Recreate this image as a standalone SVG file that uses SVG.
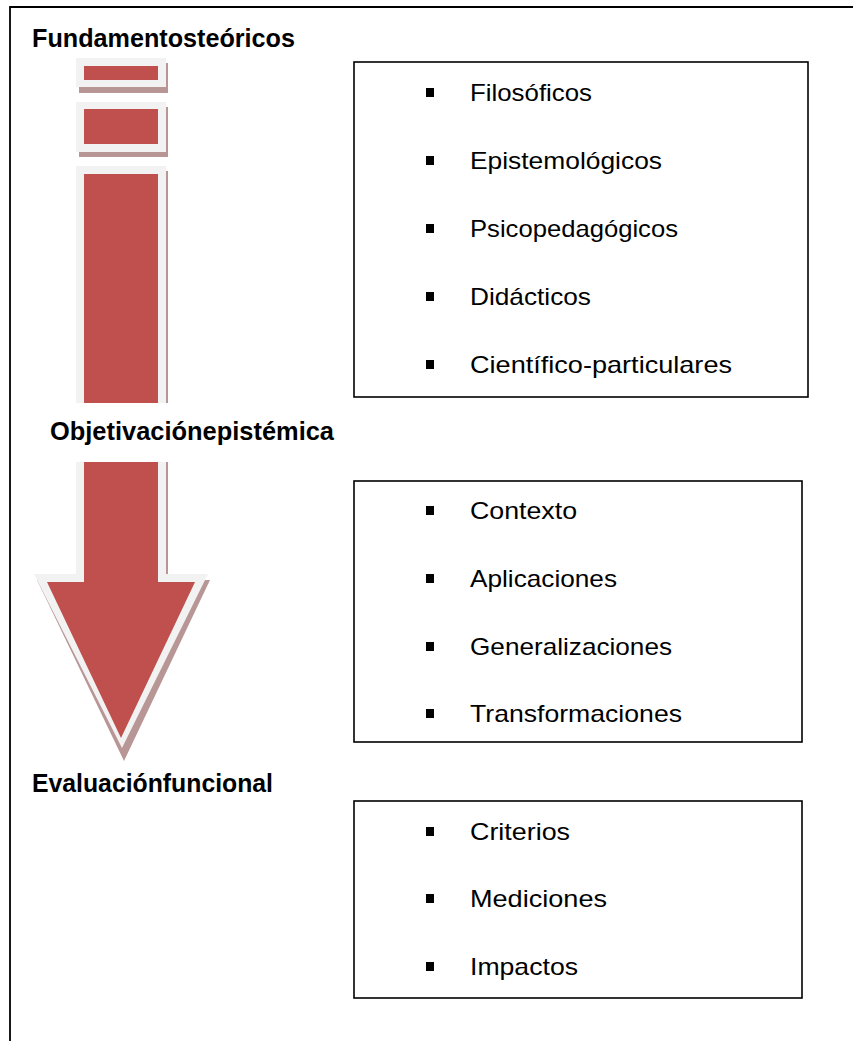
<svg xmlns="http://www.w3.org/2000/svg" width="853" height="1041" viewBox="0 0 853 1041">
<style>
.lbl{font-family:"Liberation Sans",Arial,sans-serif;font-weight:bold;font-size:25px;fill:#000}
.item{font-family:"Liberation Sans",Arial,sans-serif;font-size:24px;fill:#000}
.box{fill:#fff;stroke:#000;stroke-width:1.6}
.red{fill:#c0504d}
.light{fill:#f2f2f2}
.shadow{fill:#b99696}
.bul{fill:#000}
</style>
<rect width="853" height="1041" fill="#fff"/>
<path d="M10,1041 V7 H853" fill="none" stroke="#000" stroke-width="1.8"/>

<g id="arrow">
  <!-- segment 1 -->
  <rect class="shadow" x="79" y="63" width="89" height="30"/>
  <rect class="light" x="76" y="58" width="90" height="29"/>
  <rect class="red" x="84" y="66" width="74" height="14"/>
  <!-- segment 2 -->
  <rect class="shadow" x="79" y="107" width="89" height="50"/>
  <rect class="light" x="76" y="102" width="90" height="50"/>
  <rect class="red" x="84" y="109" width="74" height="35"/>
  <!-- main arrow -->
  <polygon class="shadow" points="79,171 168,171 168,580 210,580 124,761 37,580 79,580"/>
  <polygon class="light" points="76,166 166,166 166,574 208,574 122,748 34,574 76,574"/>
  <polygon class="red" points="84,174 158,174 158,582 195,582 121,738 47,582 84,582"/>
</g>

<g id="label-fundamentos">
  <text class="lbl" x="32" y="47" textLength="263" lengthAdjust="spacingAndGlyphs">Fundamentosteóricos</text>
</g>
<g id="label-objetivacion">
  <rect x="70" y="403" width="104" height="59" fill="#fff"/>
  <text class="lbl" x="50" y="440" textLength="284" lengthAdjust="spacingAndGlyphs">Objetivaciónepistémica</text>
</g>
<g id="label-evaluacion">
  <text class="lbl" x="32" y="792" textLength="241" lengthAdjust="spacingAndGlyphs">Evaluaciónfuncional</text>
</g>

<g id="box-fundamentos">
  <rect class="box" x="354" y="62" width="454" height="335"/>
  <rect class="bul" x="426" y="88" width="8" height="9"/>
  <text class="item" x="470" y="101" textLength="122" lengthAdjust="spacingAndGlyphs">Filosóficos</text>
  <rect class="bul" x="426" y="156" width="8" height="9"/>
  <text class="item" x="470" y="169" textLength="192" lengthAdjust="spacingAndGlyphs">Epistemológicos</text>
  <rect class="bul" x="426" y="224" width="8" height="9"/>
  <text class="item" x="470" y="237" textLength="208" lengthAdjust="spacingAndGlyphs">Psicopedagógicos</text>
  <rect class="bul" x="426" y="292" width="8" height="9"/>
  <text class="item" x="470" y="305" textLength="121" lengthAdjust="spacingAndGlyphs">Didácticos</text>
  <rect class="bul" x="426" y="360" width="8" height="9"/>
  <text class="item" x="470" y="373" textLength="262" lengthAdjust="spacingAndGlyphs">Científico-particulares</text>
</g>

<g id="box-objetivacion">
  <rect class="box" x="354" y="481" width="448" height="261"/>
  <rect class="bul" x="426" y="506" width="8" height="9"/>
  <text class="item" x="470" y="519" textLength="107" lengthAdjust="spacingAndGlyphs">Contexto</text>
  <rect class="bul" x="426" y="574" width="8" height="9"/>
  <text class="item" x="470" y="587" textLength="147" lengthAdjust="spacingAndGlyphs">Aplicaciones</text>
  <rect class="bul" x="426" y="642" width="8" height="9"/>
  <text class="item" x="470" y="655" textLength="202" lengthAdjust="spacingAndGlyphs">Generalizaciones</text>
  <rect class="bul" x="426" y="709" width="8" height="9"/>
  <text class="item" x="470" y="722" textLength="212" lengthAdjust="spacingAndGlyphs">Transformaciones</text>
</g>

<g id="box-evaluacion">
  <rect class="box" x="354" y="801" width="448" height="197"/>
  <rect class="bul" x="426" y="827" width="8" height="9"/>
  <text class="item" x="470" y="840" textLength="100" lengthAdjust="spacingAndGlyphs">Criterios</text>
  <rect class="bul" x="426" y="894" width="8" height="9"/>
  <text class="item" x="470" y="907" textLength="137" lengthAdjust="spacingAndGlyphs">Mediciones</text>
  <rect class="bul" x="426" y="962" width="8" height="9"/>
  <text class="item" x="470" y="975" textLength="108" lengthAdjust="spacingAndGlyphs">Impactos</text>
</g>

<g id="connectors"></g>
</svg>
